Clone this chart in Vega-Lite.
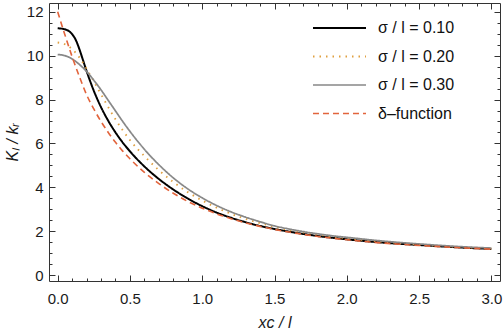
{
  "$schema": "https://vega.github.io/schema/vega-lite/v6.json",
  "width": 451,
  "height": 278,
  "autosize": "none",
  "padding": {"left": 49, "top": 3, "right": 4, "bottom": 52},
  "background": "white",
  "config": {"view": {"stroke": "#333", "strokeWidth": 1}, "font": "Liberation Sans"},
  "data": {"values": [
    {"series": "σ / l = 0.10", "x": 0, "y": 11.25},
    {"series": "σ / l = 0.10", "x": 0.05, "y": 11.2},
    {"series": "σ / l = 0.10", "x": 0.1, "y": 10.98},
    {"series": "σ / l = 0.10", "x": 0.125, "y": 10.72},
    {"series": "σ / l = 0.10", "x": 0.15, "y": 10.3},
    {"series": "σ / l = 0.10", "x": 0.175, "y": 9.8},
    {"series": "σ / l = 0.10", "x": 0.2, "y": 9.3},
    {"series": "σ / l = 0.10", "x": 0.25, "y": 8.4},
    {"series": "σ / l = 0.10", "x": 0.3, "y": 7.65},
    {"series": "σ / l = 0.10", "x": 0.35, "y": 7.03},
    {"series": "σ / l = 0.10", "x": 0.4, "y": 6.5},
    {"series": "σ / l = 0.10", "x": 0.45, "y": 6.04},
    {"series": "σ / l = 0.10", "x": 0.5, "y": 5.64},
    {"series": "σ / l = 0.10", "x": 0.6, "y": 4.95},
    {"series": "σ / l = 0.10", "x": 0.7, "y": 4.38},
    {"series": "σ / l = 0.10", "x": 0.8, "y": 3.9},
    {"series": "σ / l = 0.10", "x": 0.9, "y": 3.49},
    {"series": "σ / l = 0.10", "x": 1.0, "y": 3.14},
    {"series": "σ / l = 0.10", "x": 1.1, "y": 2.85},
    {"series": "σ / l = 0.10", "x": 1.2, "y": 2.61},
    {"series": "σ / l = 0.10", "x": 1.3, "y": 2.41},
    {"series": "σ / l = 0.10", "x": 1.4, "y": 2.24},
    {"series": "σ / l = 0.10", "x": 1.5, "y": 2.1},
    {"series": "σ / l = 0.10", "x": 1.6, "y": 1.98},
    {"series": "σ / l = 0.10", "x": 1.8, "y": 1.78},
    {"series": "σ / l = 0.10", "x": 2.0, "y": 1.63},
    {"series": "σ / l = 0.10", "x": 2.25, "y": 1.48},
    {"series": "σ / l = 0.10", "x": 2.5, "y": 1.37},
    {"series": "σ / l = 0.10", "x": 2.75, "y": 1.27},
    {"series": "σ / l = 0.10", "x": 3.0, "y": 1.19},

    {"series": "σ / l = 0.20", "x": 0, "y": 10.6},
    {"series": "σ / l = 0.20", "x": 0.05, "y": 10.52},
    {"series": "σ / l = 0.20", "x": 0.1, "y": 10.3},
    {"series": "σ / l = 0.20", "x": 0.15, "y": 9.92},
    {"series": "σ / l = 0.20", "x": 0.2, "y": 9.4},
    {"series": "σ / l = 0.20", "x": 0.25, "y": 8.83},
    {"series": "σ / l = 0.20", "x": 0.3, "y": 8.24},
    {"series": "σ / l = 0.20", "x": 0.35, "y": 7.65},
    {"series": "σ / l = 0.20", "x": 0.4, "y": 7.1},
    {"series": "σ / l = 0.20", "x": 0.45, "y": 6.6},
    {"series": "σ / l = 0.20", "x": 0.5, "y": 6.15},
    {"series": "σ / l = 0.20", "x": 0.6, "y": 5.42},
    {"series": "σ / l = 0.20", "x": 0.7, "y": 4.78},
    {"series": "σ / l = 0.20", "x": 0.8, "y": 4.24},
    {"series": "σ / l = 0.20", "x": 0.9, "y": 3.78},
    {"series": "σ / l = 0.20", "x": 1.0, "y": 3.4},
    {"series": "σ / l = 0.20", "x": 1.1, "y": 3.07},
    {"series": "σ / l = 0.20", "x": 1.2, "y": 2.79},
    {"series": "σ / l = 0.20", "x": 1.3, "y": 2.56},
    {"series": "σ / l = 0.20", "x": 1.4, "y": 2.37},
    {"series": "σ / l = 0.20", "x": 1.5, "y": 2.2},
    {"series": "σ / l = 0.20", "x": 1.6, "y": 2.06},
    {"series": "σ / l = 0.20", "x": 1.8, "y": 1.85},
    {"series": "σ / l = 0.20", "x": 2.0, "y": 1.68},
    {"series": "σ / l = 0.20", "x": 2.25, "y": 1.52},
    {"series": "σ / l = 0.20", "x": 2.5, "y": 1.39},
    {"series": "σ / l = 0.20", "x": 2.75, "y": 1.29},
    {"series": "σ / l = 0.20", "x": 3.0, "y": 1.21},

    {"series": "σ / l = 0.30", "x": 0, "y": 10.05},
    {"series": "σ / l = 0.30", "x": 0.05, "y": 10.0},
    {"series": "σ / l = 0.30", "x": 0.1, "y": 9.85},
    {"series": "σ / l = 0.30", "x": 0.15, "y": 9.6},
    {"series": "σ / l = 0.30", "x": 0.2, "y": 9.28},
    {"series": "σ / l = 0.30", "x": 0.25, "y": 8.88},
    {"series": "σ / l = 0.30", "x": 0.3, "y": 8.44},
    {"series": "σ / l = 0.30", "x": 0.35, "y": 7.96},
    {"series": "σ / l = 0.30", "x": 0.4, "y": 7.48},
    {"series": "σ / l = 0.30", "x": 0.45, "y": 7.0},
    {"series": "σ / l = 0.30", "x": 0.5, "y": 6.55},
    {"series": "σ / l = 0.30", "x": 0.6, "y": 5.73},
    {"series": "σ / l = 0.30", "x": 0.7, "y": 5.03},
    {"series": "σ / l = 0.30", "x": 0.8, "y": 4.43},
    {"series": "σ / l = 0.30", "x": 0.9, "y": 3.93},
    {"series": "σ / l = 0.30", "x": 1.0, "y": 3.52},
    {"series": "σ / l = 0.30", "x": 1.1, "y": 3.17},
    {"series": "σ / l = 0.30", "x": 1.2, "y": 2.88},
    {"series": "σ / l = 0.30", "x": 1.3, "y": 2.64},
    {"series": "σ / l = 0.30", "x": 1.4, "y": 2.43},
    {"series": "σ / l = 0.30", "x": 1.5, "y": 2.24},
    {"series": "σ / l = 0.30", "x": 1.6, "y": 2.1},
    {"series": "σ / l = 0.30", "x": 1.7, "y": 1.98},
    {"series": "σ / l = 0.30", "x": 1.8, "y": 1.88},
    {"series": "σ / l = 0.30", "x": 1.9, "y": 1.79},
    {"series": "σ / l = 0.30", "x": 2.0, "y": 1.72},
    {"series": "σ / l = 0.30", "x": 2.25, "y": 1.55},
    {"series": "σ / l = 0.30", "x": 2.5, "y": 1.42},
    {"series": "σ / l = 0.30", "x": 2.75, "y": 1.31},
    {"series": "σ / l = 0.30", "x": 3.0, "y": 1.23},

    {"series": "δ–function", "x": 0, "y": 12.0},
    {"series": "δ–function", "x": 0.05, "y": 10.95},
    {"series": "δ–function", "x": 0.1, "y": 9.95},
    {"series": "δ–function", "x": 0.15, "y": 9.05},
    {"series": "δ–function", "x": 0.2, "y": 8.22},
    {"series": "δ–function", "x": 0.25, "y": 7.57},
    {"series": "δ–function", "x": 0.3, "y": 7.0},
    {"series": "δ–function", "x": 0.35, "y": 6.5},
    {"series": "δ–function", "x": 0.4, "y": 6.05},
    {"series": "δ–function", "x": 0.45, "y": 5.65},
    {"series": "δ–function", "x": 0.5, "y": 5.3},
    {"series": "δ–function", "x": 0.6, "y": 4.68},
    {"series": "δ–function", "x": 0.7, "y": 4.17},
    {"series": "δ–function", "x": 0.8, "y": 3.73},
    {"series": "δ–function", "x": 0.9, "y": 3.36},
    {"series": "δ–function", "x": 1.0, "y": 3.05},
    {"series": "δ–function", "x": 1.1, "y": 2.79},
    {"series": "δ–function", "x": 1.2, "y": 2.57},
    {"series": "δ–function", "x": 1.3, "y": 2.38},
    {"series": "δ–function", "x": 1.4, "y": 2.22},
    {"series": "δ–function", "x": 1.5, "y": 2.08},
    {"series": "δ–function", "x": 1.6, "y": 1.96},
    {"series": "δ–function", "x": 1.8, "y": 1.76},
    {"series": "δ–function", "x": 2.0, "y": 1.61},
    {"series": "δ–function", "x": 2.25, "y": 1.46},
    {"series": "δ–function", "x": 2.5, "y": 1.35},
    {"series": "δ–function", "x": 2.75, "y": 1.26},
    {"series": "δ–function", "x": 3.0, "y": 1.18}
  ]},
  "layer": [
    {
      "encoding": {
        "x": {"field": "x", "type": "quantitative",
          "scale": {"domain": [-0.06, 3.06], "nice": false, "zero": false},
          "axis": {"orient": "bottom", "grid": false, "domain": false,
            "values": [0,0.1,0.2,0.3,0.4,0.5,0.6,0.7,0.8,0.9,1,1.1,1.2,1.3,1.4,1.5,1.6,1.7,1.8,1.9,2,2.1,2.2,2.3,2.4,2.5,2.6,2.7,2.8,2.9,3],
            "labelExpr": "abs(round(datum.value*10)) % 5 == 0 ? format(datum.value, '.1f') : ''",
            "tickSize": {"condition": {"test": "abs(round(datum.value*10)) % 5 == 0", "value": -6}, "value": -3},
            "tickColor": "#333", "labelColor": "#1a1a1a", "labelFontSize": 15, "labelPadding": 16,
            "labelOverlap": false, "labelFlush": false,
            "title": "xc / l", "titleFontSize": 16, "titleFontWeight": "normal", "titleFontStyle": "italic", "titleColor": "#1a1a1a", "titlePadding": 5}},
        "y": {"field": "y", "type": "quantitative",
          "scale": {"domain": [-0.27, 12.4], "nice": false, "zero": false},
          "axis": {"orient": "left", "grid": false, "domain": false,
            "values": [0,0.5,1,1.5,2,2.5,3,3.5,4,4.5,5,5.5,6,6.5,7,7.5,8,8.5,9,9.5,10,10.5,11,11.5,12],
            "labelExpr": "round(datum.value*2) % 4 == 0 ? format(datum.value, 'd') : ''",
            "tickSize": {"condition": {"test": "round(datum.value*2) % 4 == 0", "value": -6}, "value": -3},
            "tickColor": "#333", "labelColor": "#1a1a1a", "labelFontSize": 15, "labelPadding": 12,
            "labelOverlap": false, "labelFlush": false,
            "title": "Kₗ / kᵣ", "titleFontSize": 16, "titleFontWeight": "normal", "titleFontStyle": "italic", "titleColor": "#1a1a1a", "titlePadding": 6}},
        "color": {"field": "series", "type": "nominal",
          "scale": {"domain": ["σ / l = 0.10", "σ / l = 0.20", "σ / l = 0.30", "δ–function"], "range": ["#000000", "#E0A040", "#888888", "#E2643C"]},
          "legend": {"orient": "none", "legendX": 263, "legendY": 15, "title": null, "symbolType": "stroke", "symbolSize": 2809, "clipHeight": 20, "rowPadding": 8.5, "labelFontSize": 16, "labelColor": "#111", "labelOffset": 11, "padding": 0}},
        "strokeDash": {"field": "series", "type": "nominal",
          "scale": {"domain": ["σ / l = 0.10", "σ / l = 0.20", "σ / l = 0.30", "δ–function"], "range": [[1, 0], [1.5, 5], [1, 0], [6, 4]]}},
        "strokeWidth": {"field": "series", "type": "nominal",
          "scale": {"domain": ["σ / l = 0.10", "σ / l = 0.20", "σ / l = 0.30", "δ–function"], "range": [2, 1.6, 2, 2]}}
      },
      "layer": [
        {"transform": [{"filter": "datum.series == 'σ / l = 0.10'"}], "mark": {"type": "line", "interpolate": "monotone", "clip": true}},
        {"transform": [{"filter": "datum.series == 'σ / l = 0.20'"}], "mark": {"type": "line", "interpolate": "monotone", "clip": true}},
        {"transform": [{"filter": "datum.series == 'σ / l = 0.30'"}], "mark": {"type": "line", "interpolate": "monotone", "clip": true}},
        {"transform": [{"filter": "datum.series == 'δ–function'"}], "mark": {"type": "line", "interpolate": "monotone", "clip": true}}
      ]
    },
    {
      "mark": {"type": "point", "opacity": 0},
      "encoding": {
        "x": {"field": "x", "type": "quantitative",
          "axis": {"orient": "top", "grid": false, "domain": false, "labels": false, "title": null,
            "values": [0,0.1,0.2,0.3,0.4,0.5,0.6,0.7,0.8,0.9,1,1.1,1.2,1.3,1.4,1.5,1.6,1.7,1.8,1.9,2,2.1,2.2,2.3,2.4,2.5,2.6,2.7,2.8,2.9,3],
            "tickSize": {"condition": {"test": "abs(round(datum.value*10)) % 5 == 0", "value": -6}, "value": -3},
            "tickColor": "#333"}},
        "y": {"field": "y", "type": "quantitative",
          "axis": {"orient": "right", "grid": false, "domain": false, "labels": false, "title": null,
            "values": [0,0.5,1,1.5,2,2.5,3,3.5,4,4.5,5,5.5,6,6.5,7,7.5,8,8.5,9,9.5,10,10.5,11,11.5,12],
            "tickSize": {"condition": {"test": "round(datum.value*2) % 4 == 0", "value": -6}, "value": -3},
            "tickColor": "#333"}}
      }
    }
  ],
  "resolve": {"axis": {"x": "independent", "y": "independent"}}
}
